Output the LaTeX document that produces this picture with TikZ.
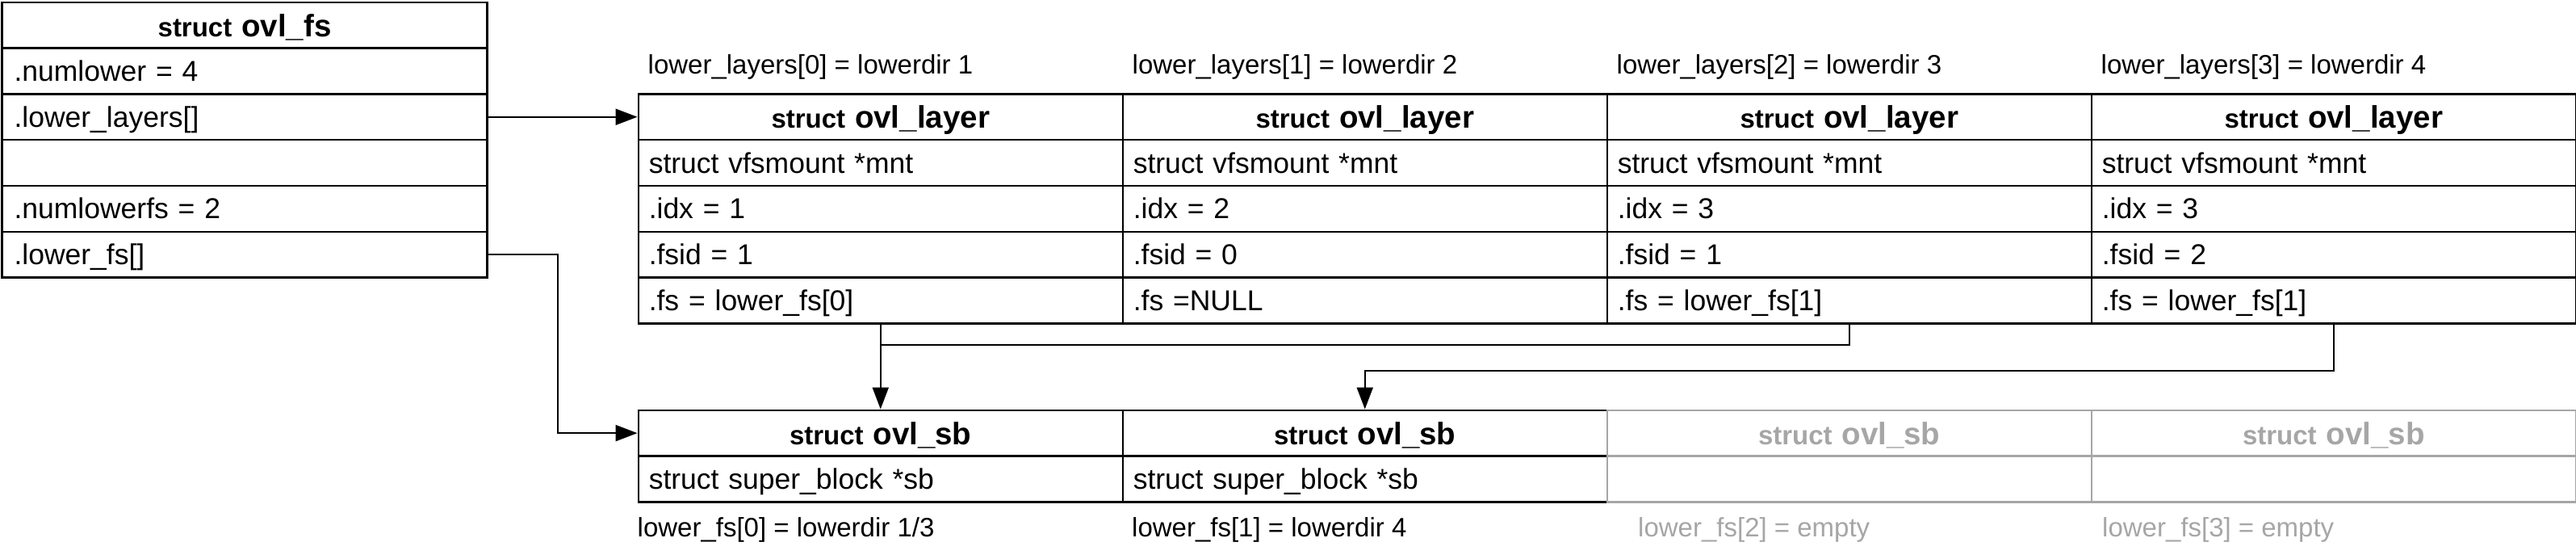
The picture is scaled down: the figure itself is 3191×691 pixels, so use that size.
\documentclass[tikz,border=0pt]{standalone}
\usepackage{fontspec}
\setmainfont{Liberation Sans}
\usetikzlibrary{arrows.meta,calc}
\definecolor{greyc}{RGB}{166,166,166}
\newcommand{\celltext}{\fontsize{35.5}{42}\selectfont}
\newcommand{\labeltext}{\fontsize{33}{40}\selectfont}
\newcommand{\structhdr}[1]{{\bfseries\fontsize{33}{40}\selectfont struct \fontsize{38.5}{44}\selectfont #1}}
\begin{document}
\begin{tikzpicture}[x=1pt,y=-1pt,
  cell/.style={draw, line width=2.5pt, rectangle, anchor=north west, minimum height=56.8pt,
    inner ysep=0pt, text height=25pt, text depth=0pt, font=\celltext},
  fscell/.style={cell, text width=571pt, inner xsep=15pt, align=left},
  colcell/.style={cell, text width=574pt, inner xsep=13pt, align=left},
  hcell/.style={colcell, align=center, text height=28pt},
  fshcell/.style={fscell, align=center, text height=28pt},
  greycell/.style={draw=greyc, text=greyc},
  lbl/.style={anchor=west, inner sep=0pt, font=\labeltext, text height=23.5pt, text depth=0pt},
  wire/.style={line width=2.2pt},
  conn/.style={wire, -{Triangle[length=27pt,width=20pt]}}
]
\useasboundingbox (0,0) rectangle (3191,691);

% struct ovl_fs
\node[fshcell] (fs0) at (1.3,1.5) {\structhdr{ovl\_fs}};
\node[fscell] (fs1) at (1.3,58.3) {.numlower = 4};
\node[fscell] (fs2) at (1.3,115.1) {.lower\_layers[]};
\node[fscell] (fs3) at (1.3,171.9) {};
\node[fscell] (fs4) at (1.3,228.7) {.numlowerfs = 2};
\node[fscell] (fs5) at (1.3,285.5) {.lower\_fs[]};

% struct ovl_layer columns
\foreach \i/\d/\idx/\fsid/\fs in {0/1/1/1/{.fs = lower\_fs[0]}, 1/2/2/0/{.fs =NULL},
    2/3/3/1/{.fs = lower\_fs[1]}, 3/4/3/2/{.fs = lower\_fs[1]}} {
  \node[lbl] (T\i) at (802.5+600*\i,80) {lower\_layers[\i] = lowerdir \d};
  \node[hcell] (L\i-0) at (789.5+600*\i,115.1) {\structhdr{ovl\_layer}};
  \node[colcell] (L\i-1) at (789.5+600*\i,171.9) {struct vfsmount *mnt};
  \node[colcell] (L\i-2) at (789.5+600*\i,228.7) {.idx = \idx};
  \node[colcell] (L\i-3) at (789.5+600*\i,285.5) {.fsid = \fsid};
  \node[colcell] (L\i-4) at (789.5+600*\i,342.3) {\fs};
}

% struct ovl_sb
\node[hcell] (S0-0) at (789.5,506.5) {\structhdr{ovl\_sb}};
\node[colcell] (S0-1) at (789.5,563.3) {struct super\_block *sb};
\node[hcell] (S1-0) at (1389.5,506.5) {\structhdr{ovl\_sb}};
\node[colcell] (S1-1) at (1389.5,563.3) {struct super\_block *sb};
\node[hcell,greycell] (S2-0) at (1989.5,506.5) {\structhdr{ovl\_sb}};
\node[colcell,greycell] (S2-1) at (1989.5,563.3) {};
\node[hcell,greycell] (S3-0) at (2589.5,506.5) {\structhdr{ovl\_sb}};
\node[colcell,greycell] (S3-1) at (2589.5,563.3) {};

\node[lbl] (B0) at (789.5,652.5) {lower\_fs[0] = lowerdir 1/3};
\node[lbl] (B1) at (1402,652.5) {lower\_fs[1] = lowerdir 4};
\node[lbl,text=greyc] (B2) at (2029,652.5) {lower\_fs[2] = empty};
\node[lbl,text=greyc] (B3) at (2604,652.5) {lower\_fs[3] = empty};

% connectors
\draw[conn] (fs2.east) -- (L0-0.west);
\draw[conn] (fs5.east) -- ([xshift=86pt]fs5.east) |- (S0-0.west);
\draw[conn] (L0-4.south) -- (S0-0.north);
\coordinate (j2) at ($(L0-4.south)+(0,25)$);
\draw[wire] (L2-4.south) |- (j2);
\coordinate (j3) at ($(L3-4.south)+(0,57)$);
\draw[conn] (L3-4.south) -- (j3) -| (S1-0.north);
\end{tikzpicture}
\end{document}
